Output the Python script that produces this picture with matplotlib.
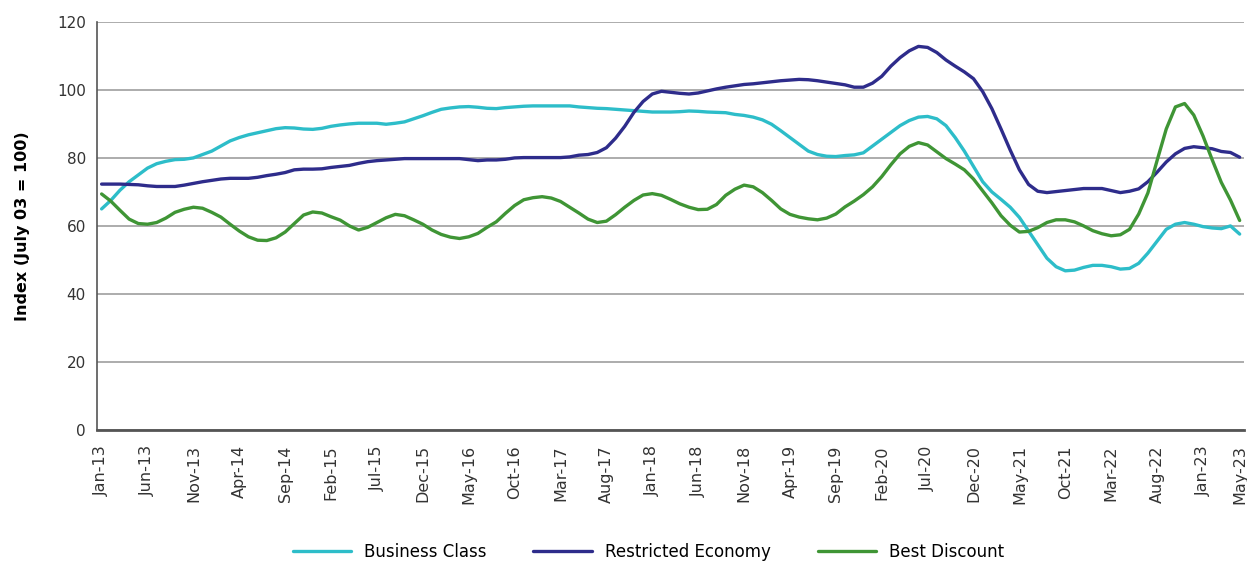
import matplotlib
matplotlib.use("Agg")
import matplotlib.pyplot as plt
import numpy as np
import pandas as pd

months = pd.date_range("2013-01-01", "2023-05-01", freq="MS")
month_labels = [d.strftime("%b-%y") for d in months]

business_class = [
    65, 67.5, 70.5, 73, 75, 77, 78.3, 79, 79.5, 79.6,
    80, 81, 82, 83.5, 85, 86, 86.8, 87.4, 88, 88.6,
    88.9, 88.8, 88.5, 88.4, 88.7, 89.3, 89.7, 90, 90.2, 90.2,
    90.2, 89.9, 90.2, 90.6, 91.5, 92.4, 93.4, 94.3, 94.7, 95,
    95.1, 94.9, 94.6, 94.5, 94.8, 95, 95.2, 95.3, 95.3, 95.3,
    95.3, 95.3, 95, 94.8, 94.6, 94.5, 94.3, 94.1, 93.9, 93.7,
    93.5, 93.5, 93.5, 93.6, 93.8, 93.7, 93.5, 93.4, 93.3, 92.8,
    92.5, 92, 91.2, 89.9, 88, 86, 84, 82, 81, 80.5,
    80.4, 80.7, 80.9, 81.5, 83.5, 85.5, 87.5, 89.5, 91, 92,
    92.2, 91.5, 89.5, 86, 82, 77.5, 73, 70, 67.8, 65.5,
    62.5, 58.5, 54.5, 50.5, 48, 46.8, 47, 47.8, 48.4, 48.4,
    48, 47.3, 47.5, 49, 52, 55.5, 59, 60.5, 61, 60.5,
    59.8, 59.4, 59.2, 60, 57.6,
]

restricted_economy = [
    72.3, 72.3, 72.3, 72.2, 72.1, 71.8, 71.6, 71.6, 71.6, 72,
    72.5, 73, 73.4, 73.8, 74, 74, 74, 74.3, 74.8, 75.2,
    75.7, 76.5, 76.7, 76.7, 76.8, 77.2, 77.5, 77.8, 78.4, 78.9,
    79.2, 79.4, 79.6, 79.8, 79.8, 79.8, 79.8, 79.8, 79.8, 79.8,
    79.5, 79.2, 79.4, 79.4, 79.6, 80, 80.1, 80.1, 80.1, 80.1,
    80.1, 80.3, 80.8, 81, 81.6, 83, 85.8, 89.3, 93.4, 96.6,
    98.8, 99.6, 99.3, 99, 98.8, 99.1, 99.7, 100.3, 100.8, 101.2,
    101.6, 101.8, 102.1, 102.4, 102.7, 102.9, 103.1, 103, 102.7, 102.3,
    101.9, 101.5, 100.8, 100.8, 102, 104, 107, 109.5, 111.5, 112.8,
    112.5, 111, 108.8, 107, 105.3, 103.3, 99.5, 94.5, 88.5, 82.3,
    76.5, 72.2, 70.2, 69.8, 70.1, 70.4, 70.7, 71, 71, 71,
    70.4, 69.8, 70.2, 70.9, 73, 75.8, 78.8, 81.2, 82.8, 83.3,
    83, 82.7, 81.9, 81.6, 80.2,
]

best_discount = [
    69.4, 67.3, 64.6, 62, 60.7, 60.5, 61, 62.3, 64, 64.9,
    65.5, 65.2, 64, 62.6, 60.5, 58.5, 56.8, 55.8, 55.7, 56.5,
    58.2, 60.7, 63.2, 64.1, 63.8, 62.7, 61.7, 60, 58.8, 59.6,
    61, 62.4, 63.4, 63, 61.8, 60.5, 58.8, 57.5, 56.7, 56.3,
    56.8, 57.8, 59.6, 61.2, 63.7, 66, 67.7, 68.3, 68.6, 68.2,
    67.2, 65.5, 63.8, 62, 61, 61.4, 63.3, 65.5, 67.5, 69.1,
    69.5, 69, 67.8, 66.5, 65.5, 64.8, 64.9, 66.3, 69, 70.8,
    72, 71.5, 69.8, 67.5, 65, 63.4, 62.6, 62.1, 61.8, 62.3,
    63.5, 65.6, 67.3, 69.2, 71.5, 74.5, 78, 81.2, 83.4, 84.5,
    83.8, 81.8, 79.8, 78.2, 76.5, 73.8, 70.3, 66.8, 63, 60.2,
    58.2, 58.4, 59.5, 61, 61.8, 61.8, 61.2, 60, 58.6, 57.7,
    57.1, 57.4, 59, 63.5, 69.7, 79.2, 88.5, 95, 96, 92.6,
    86.5, 79.5, 72.8, 67.6, 61.6,
]

series_names = ["Business Class", "Restricted Economy", "Best Discount"]
colors = ["#2DBDC9", "#2E2C8B", "#3F9535"]
y_ticks = [0, 20, 40, 60, 80, 100, 120]

plt.rcParams["font.family"] = ["DejaVu Sans"]

fig = plt.figure(figsize=(12.47, 5.62), dpi=100)
ax = fig.add_axes([0.0778, 0.235, 0.920, 0.726])

x = np.arange(len(months))
for vals, name, c in zip([business_class, restricted_economy, best_discount], series_names, colors):
    ax.plot(x, vals, color=c, lw=2.4, label=name, solid_capstyle="round")

ax.set_xlim(-0.5, len(months) - 0.5)
ax.set_ylim(0, 120)
ax.set_yticks(y_ticks)
ax.set_yticklabels([str(v) for v in y_ticks], fontsize=11, color="#333333")
ax.yaxis.grid(True, color="#A6A6A6", lw=1.3)
ax.set_axisbelow(True)

tick_idx = list(range(0, len(months), 5)) + [len(months) - 1]
ax.set_xticks(tick_idx)
ax.set_xticklabels([month_labels[i] for i in tick_idx], rotation=90, fontsize=11.5, color="#333333")
ax.tick_params(axis="both", length=0, pad=8)
ax.tick_params(axis="x", pad=11)

for s in ["top", "right"]:
    ax.spines[s].set_visible(False)
ax.spines["left"].set_color("#555555")
ax.spines["left"].set_linewidth(1.2)
ax.spines["bottom"].set_color("#555555")
ax.spines["bottom"].set_linewidth(2)

ax.set_ylabel("Index (July 03 = 100)", fontsize=11.5, fontweight="bold")
ax.yaxis.set_label_coords(-0.058, 0.5)

fig.legend(loc="lower center", ncol=3, frameon=False, fontsize=12,
           bbox_to_anchor=(0.52, -0.025), handlelength=3.5, columnspacing=2.8)

fig.savefig("out.png", dpi=100)
